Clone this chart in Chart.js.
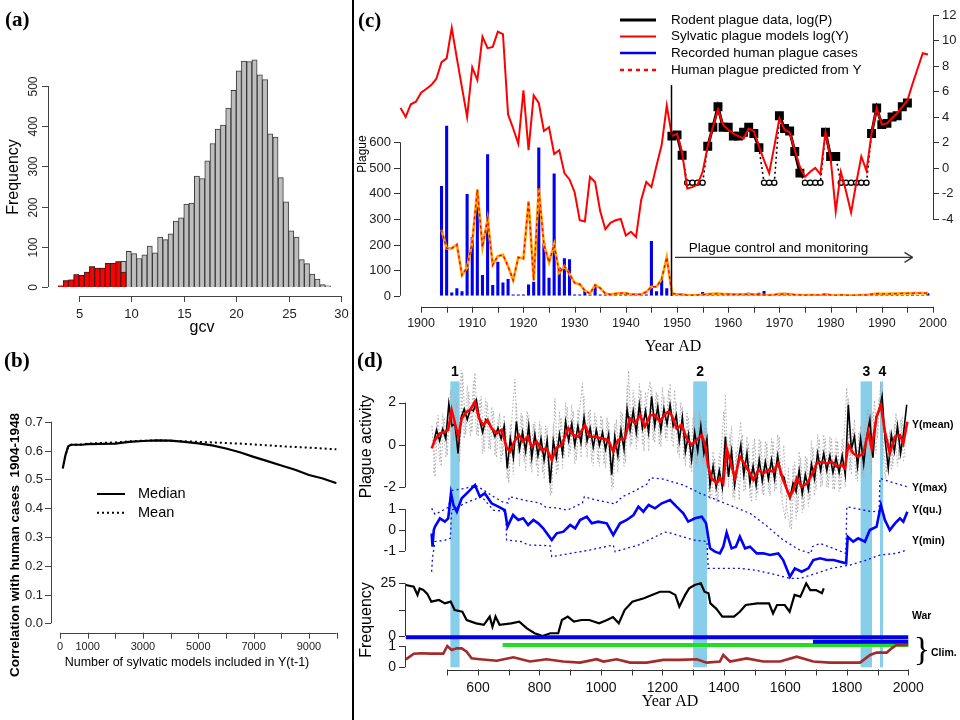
<!DOCTYPE html>
<html><head><meta charset="utf-8">
<script src="https://cdn.jsdelivr.net/npm/chart.js@4/dist/chart.umd.min.js"></script>
<style>
html,body{margin:0;padding:0;background:#fff;}
#wrap{position:relative;width:960px;height:720px;overflow:hidden;background:#fff;}
canvas{position:absolute;}
#divider{position:absolute;left:352px;top:0;width:2px;height:720px;background:#000;}
</style></head><body>
<div id="wrap">
<canvas id="ca" width="352" height="335" style="left:0;top:0"></canvas>
<canvas id="cb" width="352" height="385" style="left:0;top:335px"></canvas>
<canvas id="cc" width="606" height="360" style="left:354px;top:0"></canvas>
<canvas id="cd" width="606" height="380" style="left:354px;top:340px"></canvas>
<div id="divider"></div>
</div>
<script>
// ---------------- DATA ----------------
// (a) histogram of gcv
const gcvBins = [3.25,3.75,4.25,4.75,5.25,5.75,6.25,6.75,7.25,7.75,8.25,8.75,9.25,9.75,10.25,10.75,11.25,11.75,12.25,12.75,13.25,13.75,14.25,14.75,15.25,15.75,16.25,16.75,17.25,17.75,18.25,18.75,19.25,19.75,20.25,20.75,21.25,21.75,22.25,22.75,23.25,23.75,24.25,24.75,25.25,25.75,26.25,26.75,27.25,27.75,28.25,28.75];
const gcvAll = [3,16,18,31,29,37,51,47,47,59,59,63,64,89,83,71,80,102,85,124,118,132,164,172,206,209,276,270,314,357,393,403,445,489,538,562,561,565,528,516,381,373,272,212,140,124,68,58,32,20,6,3];
const gcvSelected = [3,16,18,31,29,37,51,47,47,59,59,63,37];

// (b) correlation vs number of models
const modelCounts = [100,200,300,400,600,800,1000,1500,2000,2500,3000,3500,4000,4500,5000,5500,6000,6500,7000,7500,8000,8500,9000,9500,10000];
const corrMedian = [0.538,0.585,0.615,0.62,0.62,0.62,0.622,0.623,0.624,0.63,0.633,0.635,0.634,0.63,0.625,0.618,0.607,0.594,0.578,0.563,0.548,0.533,0.515,0.503,0.486];
const corrMean   = [0.538,0.585,0.615,0.62,0.62,0.621,0.624,0.626,0.628,0.632,0.634,0.635,0.634,0.632,0.630,0.628,0.626,0.624,0.621,0.618,0.615,0.612,0.610,0.607,0.604];

// (c) 20th century
const yearsY = [1896,1897,1898,1899,1900,1901,1902,1903,1904,1905,1906,1907,1908,1909,1910,1911,1912,1913,1914,1915,1916,1917,1918,1919,1920,1921,1922,1923,1924,1925,1926,1927,1928,1929,1930,1931,1932,1933,1934,1935,1936,1937,1938,1939,1940,1941,1942,1943,1944,1945,1946,1947,1948,1949,1950,1951,1952,1953,1954,1955,1956,1957,1958,1959,1960,1961,1962,1963,1964,1965,1966,1967,1968,1969,1970,1971,1972,1973,1974,1975,1976,1977,1978,1979,1980,1981,1982,1983,1984,1985,1986,1987,1988,1989,1990,1991,1992,1993,1994,1995,1996,1997,1998,1999];
const sylvaticLogY = [4.7,4.0,5.0,5.2,5.9,6.2,6.5,7.0,8.3,8.6,11.0,8.6,6.3,4.0,7.9,6.9,10.3,9.4,9.5,10.7,10.5,4.2,3.1,1.9,6.1,1.4,5.7,5.1,2.9,3.2,1.1,1.4,-0.4,-0.9,-1.9,-4.1,-4.2,-0.7,-1.1,-3.4,-4.8,-4.3,-4.1,-4.0,-5.3,-5.0,-5.4,-2.5,-1.1,-1.5,0.2,1.8,4.9,2.5,2.7,1.2,-1.6,-1.5,-1.3,-0.3,1.7,3.2,4.6,3.4,3.0,2.7,2.5,2.3,3.1,2.9,1.7,0.6,-0.4,1.7,3.9,3.0,2.8,1.4,0.1,-0.7,-0.3,0.0,-0.5,2.8,0.8,-3.4,-0.3,-1.8,-3.5,-1.2,0.9,-0.2,2.7,4.7,3.4,3.5,3.9,4.3,4.8,5.3,6.6,7.8,9.0,8.9];
const caseYears = [1904,1905,1906,1907,1908,1909,1910,1911,1912,1913,1914,1915,1916,1917,1918,1919,1920,1921,1922,1923,1924,1925,1926,1927,1928,1929,1930,1931,1932,1933,1934,1935,1936,1937,1938,1939,1940,1941,1942,1943,1944,1945,1946,1947,1948,1949,1950,1951,1952,1953,1954,1955,1956,1957,1958,1959,1960,1961,1962,1963,1964,1965,1966,1967,1968,1969,1970,1971,1972,1973,1974,1975,1976,1977,1978,1979,1980,1981,1982,1983,1984,1985,1986,1987,1988,1989,1990,1991,1992,1993,1994,1995,1996,1997,1998,1999];
const humanCases = [429,665,13,29,17,398,230,348,81,553,42,133,52,65,5,5,5,44,55,580,205,70,478,110,146,143,5,5,20,5,38,5,5,5,8,5,10,5,5,5,5,214,17,64,29,5,3,3,3,3,3,14,5,3,9,3,5,3,5,3,12,3,12,18,5,3,5,12,3,5,3,5,3,5,3,3,5,3,3,5,3,3,5,3,3,3,8,3,3,5,3,3,5,3,3,10];
const humanPredicted = [258,185,185,200,80,110,210,415,190,300,120,155,160,115,60,150,145,370,60,420,200,130,200,90,115,85,50,45,20,8,42,30,8,5,8,10,10,5,5,5,15,35,35,65,150,10,5,5,2,2,3,4,6,7,8,6,6,5,5,5,6,5,4,3,2,4,7,6,6,4,3,2,3,3,2,6,3,1,3,2,1,2,3,3,6,8,7,7,8,8,9,9,10,10,10,10];
const rodentYears = [1949,1950,1951,1952,1953,1954,1955,1956,1957,1958,1959,1960,1961,1962,1963,1964,1965,1966,1967,1968,1969,1970,1971,1972,1973,1974,1975,1976,1977,1978,1979,1980,1981,1982,1983,1984,1985,1986,1987,1988,1989,1990,1991,1992,1993,1994,1995];
// null = no rodent plague recorded (P = 0), drawn as open circles on the zero line
const rodentLogP = [2.5,2.6,1.0,null,null,null,null,1.7,3.2,4.8,3.2,3.2,2.5,2.5,2.8,3.2,2.7,1.6,null,null,null,4.1,3.1,2.9,1.3,-0.4,null,null,null,null,2.8,0.9,0.9,null,null,null,null,null,null,2.7,4.7,3.4,3.5,4.0,4.1,4.8,5.1];
const rodentZeroLevel = -1.15;

// (d) 1500 years
const meanYears = [449,460,476,492,503,514,536,547,563,574,590,603,617,631,644,661,677,693,704,718,733,747,762,775,791,807,823,840,856,872,894,910,926,948,964,981,1002,1024,1040,1056,1078,1094,1111,1127,1143,1160,1176,1192,1208,1219,1230,1246,1263,1279,1295,1312,1328,1339,1349,1360,1377,1387,1398,1409,1420,1436,1452,1469,1485,1496,1512,1528,1545,1561,1577,1593,1606,1615,1626,1637,1653,1670,1686,1702,1718,1735,1751,1767,1783,1794,1805,1821,1837,1854,1870,1881,1897,1911,1924,1940,1957,1973,1984,1997];
const meanVals = [-0.16,0.24,0.55,0.63,0.71,1.65,0.39,1.26,1.57,1.65,2.04,1.26,0.94,1.18,0.79,0.55,0.71,-0.11,-0.31,0.16,0.47,0.16,0.39,-0.08,0.16,-0.24,-0.16,-0.71,-0.11,0.0,0.79,0.47,0.39,0.94,0.39,0.39,0.31,0.24,-0.31,0.24,0.31,1.26,1.02,1.41,0.87,1.4,1.41,1.1,1.45,1.57,1.41,0.79,0.94,0.31,0.0,0.24,0.47,0.0,-1.02,-1.57,-1.81,-1.57,-1.81,-0.16,-0.71,-1.57,-0.55,-0.94,-1.34,-1.65,-1.18,-1.34,-1.18,-1.26,-0.87,-1.65,-2.12,-2.44,-2.12,-1.57,-1.97,-1.81,-1.42,-0.87,-0.79,-0.87,-0.79,-1.02,-0.94,-1.1,0.0,-0.39,-0.55,-0.39,0.63,-0.16,1.34,1.89,0.63,-0.39,0.39,0.47,0.08,1.1];
const rawStartYear = 455, rawStepYears = 10;
const rawVals = [0.1,0.7,0.2,0.75,0.3,
 1.95,0.9,1.0,-0.4,1.3,1.7,1.2,1.7,1.6,2.1,
 1.2,0.6,1.2,1.0,0.8,0.4,0.8,0.3,0.9,-1.1,
 0.3,-0.6,1.1,-0.2,0.6,-0.3,0.9,-0.6,0.5,-0.5,
 0.3,-0.7,0.2,-1.8,0.2,-0.6,0.5,-0.4,1.1,0.2,
 1.0,0.0,0.9,0.1,1.3,0.2,0.8,-0.1,0.7,0.0,
 0.6,-0.2,0.5,-1.4,0.4,-0.5,0.7,-0.2,1.7,0.7,
 1.6,0.6,1.9,0.8,1.6,0.6,2.3,0.9,1.8,0.7,
 1.7,1.0,1.9,0.9,1.4,0.2,1.3,-0.3,0.5,-0.7,
 0.6,-0.3,0.9,-0.4,0.3,-1.9,-1.0,-2.0,-1.2,-2.0,
 0.4,-1.5,-0.3,-1.9,-0.9,0.0,-1.4,-0.4,-1.8,-1.0,
 -1.9,-0.7,-1.7,-0.8,-1.6,-0.7,-1.6,-0.5,-1.4,-1.5,
 -2.1,-2.5,-1.8,-2.2,-1.2,-2.3,-1.4,-2.1,-0.9,-1.6,
 -0.4,-1.2,-0.4,-1.2,-0.5,-1.3,-0.6,-1.3,-0.5,-1.4,
 1.9,-0.2,0.4,-1.0,0.3,-0.9,0.4,1.2,-0.6,1.3,
 1.6,2.3,0.2,-1.1,0.5,-0.3,0.9,-0.4,0.6,1.9];
const modelAStartYear = 450;
const modelAVals = [0.9,-1.5,1.4,-1.0,1.3,
 -0.5,2.6,0.2,2.0,-0.8,3.4,0.5,2.5,0.6,3.4,
 0.4,2.3,-0.3,2.0,-0.2,1.6,-0.6,1.5,-0.5,0.9,
 -1.8,1.2,3.1,-0.4,1.5,-0.8,1.6,-1.0,1.0,-1.0,
 1.1,-1.3,0.9,-1.6,-2.3,2.2,-1.2,1.3,-0.6,1.8,
 -0.4,1.6,-0.7,1.6,2.9,-0.1,1.6,-0.8,1.5,-0.8,
 1.4,-0.9,1.3,-1.3,-2.0,1.2,-0.8,1.5,-0.8,3.5,
 0.0,2.2,0.2,2.6,-0.3,2.2,3.0,0.2,2.5,0.0,
 2.7,0.3,2.6,0.2,2.6,-0.4,2.0,-0.7,1.5,-1.1,
 1.3,-0.9,1.6,-0.8,1.1,-2.2,-2.5,-0.6,-2.7,-0.5,
 1.6,-1.4,0.5,-2.5,-0.3,-2.6,0.5,-2.1,0.1,-2.7,
 0.3,-2.3,0.2,-2.4,0.1,-2.4,0.2,-2.1,0.4,-2.7,
 -3.5,-1.1,-4.0,-0.8,-3.2,-0.6,-3.0,-0.6,-2.6,-0.1,
 -2.1,0.3,-1.9,0.3,-2.0,0.3,-2.1,0.2,-2.1,0.1,
 2.7,-1.2,0.8,-1.6,0.6,-1.5,1.0,1.7,-1.3,2.1,
 0.3,2.9,-0.3,-1.3,0.7,-1.0,1.5,-0.7,1.3,-0.6];
const modelBStartYear = 455;
const modelBVals = [-1.3,1.1,-0.8,1.5,-0.6,
 1.8,-0.2,2.4,-0.9,3.7,0.3,2.8,0.4,3.0,0.5,
 2.1,-0.4,2.2,-0.2,1.8,-0.5,1.2,-0.8,1.4,-1.6,
 1.0,-1.4,2.0,-1.0,1.4,-1.2,1.4,-1.3,1.1,-1.5,
 0.9,-1.6,0.8,-2.4,1.0,-1.4,1.6,-1.1,2.0,-0.6,
 1.9,-0.9,1.7,-0.6,2.3,-0.6,1.7,-1.0,1.3,-1.0,
 1.2,-1.1,1.1,-2.1,1.0,-1.3,1.6,-1.0,2.8,-0.1,
 2.6,-0.2,2.9,0.0,2.5,-0.3,2.7,0.1,2.4,-0.1,
 2.3,0.2,2.9,-0.1,2.0,-0.6,1.8,-1.0,1.3,-1.3,
 1.5,-1.1,1.4,-1.0,0.8,-2.6,-0.3,-2.7,-0.4,-2.6,
 2.4,-2.0,0.9,-2.6,-0.1,1.1,-2.2,0.4,-2.5,0.0,
 -2.6,0.3,-2.3,0.2,-2.2,0.3,-2.2,0.5,-2.3,0.0,
 -3.0,-3.9,-1.0,-3.5,-0.3,-3.2,-0.5,-2.9,0.2,-2.4,
 0.5,-2.0,0.5,-2.0,0.4,-2.1,0.3,-2.2,0.3,-2.0,
 2.2,-1.4,1.2,-1.7,0.9,-1.6,1.2,-0.9,1.6,-0.4,
 2.2,0.1,-1.6,0.3,-1.2,1.0,-1.0,1.2,-0.8];
const quYears = [449,452,456,460,476,492,503,512,520,531,547,569,590,606,622,644,666,687,696,714,731,747,763,780,796,812,840,856,878,900,916,932,954,970,991,1019,1040,1062,1084,1106,1122,1138,1155,1176,1198,1225,1246,1268,1284,1306,1328,1342,1355,1371,1387,1398,1409,1425,1439,1452,1469,1485,1507,1528,1550,1577,1593,1615,1631,1653,1675,1691,1713,1735,1757,1778,1798,1803,1821,1837,1859,1875,1897,1911,1924,1940,1957,1973,1984,1997];
const quVals = [-0.16,-0.8,0.0,0.16,0.56,0.4,0.56,1.76,1.2,0.88,1.52,1.84,2.16,1.6,1.76,1.28,1.12,0.96,0.16,0.72,0.48,0.56,0.24,0.48,0.32,0.08,-0.48,-0.16,-0.08,0.24,0.08,0.48,0.64,0.32,0.4,0.32,-0.24,0.32,0.48,0.72,1.12,0.88,1.2,1.04,1.28,1.44,1.12,0.8,0.4,0.56,0.64,0.32,-0.88,-1.04,-1.12,-0.8,-0.13,-0.88,-0.8,-0.32,-0.88,-0.8,-1.12,-1.12,-1.2,-1.12,-1.44,-2.24,-1.84,-2.0,-1.84,-1.44,-1.36,-1.44,-1.44,-1.52,-1.6,-0.32,-0.56,-0.4,-0.56,0.0,0.16,1.2,0.48,0.0,0.32,0.56,0.4,0.88];
const maxYears = [449,460,480,505,512,560,590,620,650,680,698,702,760,800,820,860,890,940,946,980,1030,1045,1070,1100,1150,1160,1200,1268,1323,1377,1431,1485,1539,1593,1647,1683,1688,1713,1750,1797,1800,1854,1880,1905,1908,1940,1995];
const maxVals = [1.04,0.75,0.9,1.1,1.9,2.0,2.15,1.9,1.6,1.35,1.3,1.6,1.4,1.3,1.1,1.05,0.95,1.3,1.6,1.45,1.3,1.25,1.6,1.8,2.2,2.5,2.45,2.16,1.76,1.44,1.12,0.8,0.2,-0.48,-0.96,-1.12,-0.8,-0.64,-0.85,-1.12,1.12,0.96,0.88,0.9,2.48,2.32,2.08];
const minYears = [449,452,460,490,510,514,560,612,650,690,693,742,763,834,840,964,1040,1046,1122,1208,1230,1301,1345,1349,1450,1500,1550,1615,1650,1700,1750,1810,1865,1908,1962,1995];
const minVals = [-2.0,-1.3,-0.55,-0.5,-0.4,0.95,1.3,1.6,0.95,0.9,-0.48,-0.56,-0.72,-0.75,-1.28,-0.96,-0.72,-1.04,-0.72,-0.1,-0.16,-0.48,-0.55,-1.84,-1.84,-1.92,-2.08,-2.32,-2.32,-2.08,-1.84,-1.68,-1.44,-1.2,-1.12,-0.96];
const warYears = [365,391,403,410,422,435,448,473,492,511,524,549,563,594,619,638,647,657,670,708,734,759,784,810,835,861,873,892,912,937,962,994,1020,1039,1058,1077,1102,1140,1166,1192,1223,1242,1255,1274,1287,1305,1325,1337,1350,1356,1375,1395,1433,1452,1471,1509,1547,1560,1573,1598,1614,1630,1649,1668,1681,1700,1719,1725];
const warVals = [24.2,23.4,19.5,22.5,21.8,20,16.3,17.1,15.5,16.3,12.3,11.5,7.6,6.0,5.3,9.2,4.4,9.2,5.3,6.0,6.8,3.6,1.3,0,1.3,1.3,7.6,9.2,6.8,7.6,7.6,6.0,7.6,9.0,6.0,12.3,16.3,17.9,19.5,21.0,21.0,19.5,13.9,19.5,22.6,24.2,25,21,20.3,15.5,13,9.2,9.2,11.5,14.7,15.5,15.5,10.7,14.7,14.7,11.5,19.5,18.7,25,21.8,21.8,20.3,22.6];
const climYears = [365,391,416,444,487,500,514,531,547,563,579,606,661,715,769,823,877,932,986,1008,1051,1095,1149,1203,1257,1312,1344,1387,1398,1420,1474,1528,1583,1637,1691,1745,1800,1843,1876,1897,1930,1946,1962,2000];
const climVals = [0.37,0.64,0.66,0.64,0.64,1.0,0.81,0.89,0.89,0.73,0.42,0.38,0.31,0.47,0.27,0.38,0.27,0.22,0.38,0.27,0.38,0.22,0.22,0.35,0.35,0.38,0.22,0.27,0.58,0.27,0.42,0.27,0.27,0.5,0.27,0.22,0.22,0.22,0.58,0.69,0.69,0.89,1.05,1.05];
const recordStart = [365,1690,680];
const recordEnd = [2000,2000,2000];
const recordLevel = [1.41,1.2,1.05];
const pandemicStart = [510,1300,1845,1908];
const pandemicEnd = [540,1345,1882,1918];
const pandemicLabels = ['1','2','3','4'];

// ---------------- HELPERS ----------------
const SANS = '"Liberation Sans", Arial, Helvetica, sans-serif';
const SERIF = '"Liberation Serif", "Times New Roman", serif';
function xy(xs, ys){ return xs.map((x,i)=>({x:x, y:ys[i]})); }
function regular(start, step, vals){ return vals.map((v,i)=>({x:start+i*step, y:v})); }
function seg(ctx,x1,y1,x2,y2,color,w,dash){ctx.save();ctx.beginPath();ctx.strokeStyle=color||'#000';ctx.lineWidth=w||1;ctx.setLineDash(dash||[]);ctx.moveTo(x1,y1);ctx.lineTo(x2,y2);ctx.stroke();ctx.restore();}
function txt(ctx,s,x,y,o){o=o||{};ctx.save();ctx.translate(x,y);if(o.rot)ctx.rotate(o.rot);if(o.sx)ctx.scale(o.sx,1);ctx.font=o.font||('12px '+SANS);ctx.fillStyle=o.color||'#000';ctx.textAlign=o.align||'center';ctx.textBaseline=o.base||'middle';ctx.fillText(s,0,0);ctx.restore();}
const cr = v => Math.round(v)+0.5;
const base = {responsive:false, animation:false, events:[], devicePixelRatio:1,
  plugins:{legend:{display:false}, tooltip:{enabled:false}},
  elements:{point:{radius:0}, line:{tension:0}}};
Chart.defaults.font.family = SANS;

// ---------------- (a) ----------------
new Chart(document.getElementById('ca'), {
  type:'bar',
  data:{datasets:[
    {data:xy(gcvBins.slice(0,gcvSelected.length), gcvSelected), backgroundColor:'#FF0000', borderColor:'#3a2020', borderWidth:1, order:1},
    {data:xy(gcvBins, gcvAll), backgroundColor:'#BEBEBE', borderColor:'#3a3a3a', borderWidth:1, order:2}
  ]},
  options:Object.assign({}, base, {
    layout:{padding:{left:58, right:11, top:45.8, bottom:48}},
    datasets:{bar:{barPercentage:1, categoryPercentage:1, grouped:false}},
    scales:{x:{type:'linear', min:3, max:30, offset:false, display:false, ticks:{stepSize:5}},
            y:{min:0, max:600, display:false}}
  }),
  plugins:[{id:'axA', afterDraw(chart){
    const ctx=chart.ctx, x=chart.scales.x, y=chart.scales.y, col='#444';
    const ax=48;
    seg(ctx,cr(ax),y.getPixelForValue(0),cr(ax),y.getPixelForValue(500),col,1);
    [0,100,200,300,400,500].forEach(v=>{const py=cr(y.getPixelForValue(v)); seg(ctx,ax-6,py,ax,py,col,1); txt(ctx,String(v),ax-14,py,{font:'12px '+SANS,rot:-Math.PI/2,color:'#222'});});
    const ay=296;
    seg(ctx,x.getPixelForValue(5),cr(ay),x.getPixelForValue(30),cr(ay),col,1);
    [5,10,15,20,25,30].forEach(v=>{const px=cr(x.getPixelForValue(v)); seg(ctx,px,ay,px,ay+6,col,1); txt(ctx,String(v),px,ay+18,{font:'13px '+SANS,color:'#222'});});
    txt(ctx,'Frequency',14,177,{font:'16px '+SANS,rot:-Math.PI/2});
    txt(ctx,'gcv',202,328,{font:'16px '+SANS});
    txt(ctx,'(a)',5,21,{font:'bold 21px '+SERIF,align:'left'});
  }}]
});

// ---------------- (b) ----------------
new Chart(document.getElementById('cb'), {
  type:'line',
  data:{datasets:[
    {data:xy(modelCounts, corrMedian), borderColor:'#000', borderWidth:2.2, fill:false},
    {data:xy(modelCounts, corrMean), borderColor:'#000', borderWidth:2, borderDash:[2,3], fill:false}
  ]},
  options:Object.assign({}, base, {
    layout:{padding:{left:60, right:15.4, top:86.7, bottom:96.7}},
    scales:{x:{type:'linear', min:0, max:10000, display:false},
            y:{min:0, max:0.7, display:false}}
  }),
  plugins:[{id:'axB', afterDraw(chart){
    const ctx=chart.ctx, x=chart.scales.x, y=chart.scales.y, col='#444';
    const ax=51;
    seg(ctx,cr(ax),y.getPixelForValue(0),cr(ax),y.getPixelForValue(0.7),col,1);
    [0,0.1,0.2,0.3,0.4,0.5,0.6,0.7].forEach(v=>{const py=cr(y.getPixelForValue(v)); seg(ctx,ax-6,py,ax,py,col,1); txt(ctx,v.toFixed(1),ax-8,py,{font:'13px '+SANS,align:'right',color:'#222'});});
    const ay=297.7;
    seg(ctx,x.getPixelForValue(0),cr(ay),x.getPixelForValue(10000),cr(ay),col,1);
    for(let v=0;v<=10000;v+=1000){const px=cr(x.getPixelForValue(v)); seg(ctx,px,ay,px,ay+6,col,1);}
    [0,1000,3000,5000,7000,9000].forEach(v=>{txt(ctx,String(v),x.getPixelForValue(v),ay+14,{font:'11px '+SANS,color:'#222'});});
    txt(ctx,'Correlation with human cases  1904-1948',15,210,{font:'bold 13.5px '+SANS,rot:-Math.PI/2});
    txt(ctx,'Number of sylvatic models included in Y(t-1)',187,328,{font:'12.5px '+SANS});
    seg(ctx,97,159,125,159,'#000',2);
    seg(ctx,97,177.7,125,177.7,'#000',2,[2,3]);
    txt(ctx,'Median',138,159,{font:'14.5px '+SANS,align:'left'});
    txt(ctx,'Mean',138,177.7,{font:'14.5px '+SANS,align:'left'});
    txt(ctx,'(b)',4,27,{font:'bold 21px '+SERIF,align:'left'});
  }}]
});

// ---------------- (c) ----------------
const controlStartYear = 1948.8;
new Chart(document.getElementById('cc'), {
  type:'bar',
  data:{datasets:[
    {type:'line', data:xy(yearsY, sylvaticLogY), yAxisID:'y2', borderColor:'#FF0000', borderWidth:2, fill:false, order:1},
    {type:'line', data:xy(rodentYears, rodentLogP), yAxisID:'y2', borderColor:'#000', borderWidth:3, fill:false, spanGaps:false,
      pointStyle:'rect', pointRadius:4.2, pointBackgroundColor:'#000', pointBorderColor:'#000', order:2},
    {type:'line', data:xy(rodentYears, rodentLogP.map(v=>v===null?rodentZeroLevel:v)), yAxisID:'y2', borderColor:'#000', borderWidth:1.6, borderDash:[2,3], fill:false,
      pointRadius:rodentLogP.map(v=>v===null?2.6:0), pointBackgroundColor:'#fff', pointBorderColor:'#000', pointBorderWidth:1.3, order:3},
    {type:'line', data:xy(caseYears, humanPredicted), yAxisID:'y', borderColor:'#FF0000', borderWidth:1.4, borderDash:[3,3], fill:false, order:4},
    {type:'line', data:xy(caseYears, humanPredicted), yAxisID:'y', borderColor:'#FFA500', borderWidth:2.6, fill:false, order:5},
    {type:'bar', data:xy(caseYears, humanCases), yAxisID:'y', backgroundColor:'#0000EE', borderWidth:0, barPercentage:0.6, categoryPercentage:1, grouped:false, order:6}
  ]},
  options:Object.assign({}, base, {
    layout:{padding:{left:44, right:27, top:10, bottom:64.3}},
    scales:{x:{type:'linear', min:1895.5, max:2000, offset:false, display:false, ticks:{stepSize:10}},
            y:{position:'left', min:0, max:1117.3, display:false},
            y2:{position:'right', min:-10.016, max:12.392, display:false}}
  }),
  plugins:[{id:'axC', afterDraw(chart){
    const ctx=chart.ctx, x=chart.scales.x, y=chart.scales.y, y2=chart.scales.y2, col='#333';
    const lx=46;
    seg(ctx,cr(lx),y.getPixelForValue(0),cr(lx),y.getPixelForValue(600),col,1);
    [0,100,200,300,400,500,600].forEach(v=>{const py=cr(y.getPixelForValue(v)); seg(ctx,lx-6,py,lx,py,col,1); txt(ctx,String(v),lx-9,py,{font:'13px '+SANS,align:'right',color:'#222'});});
    txt(ctx,'Plague',9,154,{font:'12px '+SANS,rot:-Math.PI/2});
    const by=306.7;
    seg(ctx,x.getPixelForValue(1900),cr(by),x.getPixelForValue(2000),cr(by),col,1);
    for(let v=1900;v<=2000;v+=5){const px=cr(x.getPixelForValue(v)); seg(ctx,px,by,px,by+6,col,1);}
    for(let v=1900;v<=2000;v+=10){txt(ctx,String(v),x.getPixelForValue(v),by+17,{font:'12.5px '+SANS,color:'#222'});}
    const rx=579;
    seg(ctx,cr(rx),y2.getPixelForValue(-4),cr(rx),y2.getPixelForValue(12),col,1);
    for(let v=-4;v<=12;v+=2){const py=cr(y2.getPixelForValue(v)); seg(ctx,rx,py,rx+6,py,col,1); txt(ctx,String(v),rx+9,py,{font:'13px '+SANS,align:'left',color:'#222'});}
    // plague control line + arrow
    const cx=cr(x.getPixelForValue(controlStartYear));
    seg(ctx,cx,y2.getPixelForValue(6.5),cx,y.getPixelForValue(0),'#000',1.5);
    const ay=y.getPixelForValue(150), a1=x.getPixelForValue(1949.6), a2=x.getPixelForValue(1996);
    seg(ctx,a1,ay,a2,ay,'#333',1.3);
    seg(ctx,a2-8,ay-5,a2,ay,'#333',1.3); seg(ctx,a2-8,ay+5,a2,ay,'#333',1.3);
    txt(ctx,'Plague control and monitoring',x.getPixelForValue(1952.3),y.getPixelForValue(186),{font:'13.5px '+SANS,align:'left'});
    // legend
    const lg=[['Rodent plague data, log(P)','#000',3,[]],['Sylvatic plague models log(Y)','#FF0000',2,[]],['Recorded human plague cases','#0000EE',2.5,[]],['Human plague predicted from Y','#FF0000',2.5,[4,4]]];
    const rows=[20,36.5,53,70];
    lg.forEach((e,i)=>{seg(ctx,266,rows[i],302,rows[i],e[1],e[2],e[3]); txt(ctx,e[0],317,rows[i],{font:'13.5px '+SANS,align:'left'});});
    txt(ctx,'(c)',4,22,{font:'bold 21px '+SERIF,align:'left'});
    txt(ctx,'Year AD',319,347,{font:'16px '+SERIF});
  }}]
});

// ---------------- (d) ----------------
const lineD = (data, yid, color, w, dash, order) => ({type:'line', data:data, yAxisID:yid, borderColor:color, borderWidth:w, borderDash:dash||[], fill:false, order:order, pointRadius:0});
new Chart(document.getElementById('cd'), {
  type:'line',
  data:{datasets:[
    lineD(regular(modelAStartYear, rawStepYears, modelAVals),'yA','#A8A8A8',1,[1.5,2],12),
    lineD(regular(modelBStartYear, rawStepYears, modelBVals),'yA','#B4B4B4',1,[1.5,2],11),
    lineD(regular(rawStartYear, rawStepYears, rawVals),'yA','#000',1.6,[],10),
    lineD(xy(meanYears, meanVals),'yA','#FF0000',2.6,[],9),
    lineD(xy(maxYears, maxVals),'yB','#1010E0',1.3,[2,3],8),
    lineD(xy(minYears, minVals),'yB','#1010E0',1.3,[2,3],7),
    lineD(xy(quYears, quVals),'yB','#0000FF',2.6,[],6),
    lineD(xy(warYears, warVals),'yW','#000',2.2,[],5),
    lineD([{x:recordStart[2],y:recordLevel[2]},{x:recordEnd[2],y:recordLevel[2]}],'yC','#22DD22',4,[],4),
    lineD([{x:recordStart[0],y:recordLevel[0]},{x:recordEnd[0],y:recordLevel[0]}],'yC','#0000EE',4,[],3),
    lineD([{x:recordStart[1],y:recordLevel[1]},{x:recordEnd[1],y:recordLevel[1]}],'yC','#0000EE',4,[],2),
    lineD(xy(climYears, climVals),'yC','#A52A2A',2.6,[],1)
  ]},
  options:Object.assign({}, base, {
    layout:{padding:{left:51, right:2, top:30, bottom:45}},
    scales:{x:{type:'linear', min:362.35, max:2161.9, display:false},
            yA:{position:'left', min:-10.849, max:3.5377, display:false},
            yB:{position:'left', min:-6.954, max:7.674, display:false},
            yW:{position:'left', min:-18.5, max:126.19, display:false},
            yC:{position:'left', min:-0.3615, max:13.958, display:false}}
  }),
  plugins:[{id:'axD',
    beforeDatasetsDraw(chart){
      const ctx=chart.ctx, x=chart.scales.x, yA=chart.scales.yA, yC=chart.scales.yC;
      ctx.save(); ctx.fillStyle='#87CEEB';
      const top=yA.getPixelForValue(3.0), bot=yC.getPixelForValue(0);
      pandemicStart.forEach((s,i)=>{const x1=x.getPixelForValue(s), x2=x.getPixelForValue(pandemicEnd[i]); ctx.fillRect(x1,top,x2-x1,bot-top);});
      ctx.restore();
    },
    afterDraw(chart){
      const ctx=chart.ctx, x=chart.scales.x, s=chart.scales, col='#333';
      const ax=51;
      const vax=(sc,from,to,ticks,labels)=>{
        seg(ctx,cr(ax),sc.getPixelForValue(from),cr(ax),sc.getPixelForValue(to),col,1);
        ticks.forEach(v=>{const py=cr(sc.getPixelForValue(v)); seg(ctx,ax-6,py,ax,py,col,1);});
        labels.forEach(v=>{txt(ctx,String(v),ax-9,sc.getPixelForValue(v),{font:'14px '+SANS,align:'right',color:'#111'});});
      };
      vax(s.yA,-2,2,[-2,0,2],[-2,0,2]);
      vax(s.yB,-1,1,[-1,0,1],[-1,0,1]);
      vax(s.yW,0,25,[0,12.5,25],[0,25]);
      vax(s.yC,0,1,[0,1],[0,1]);
      const by=329.5;
      seg(ctx,x.getPixelForValue(500),cr(by),x.getPixelForValue(2000),cr(by),col,1);
      for(let v=500;v<=2000;v+=100){const px=cr(x.getPixelForValue(v)); seg(ctx,px,by,px,by+6,col,1);}
      for(let v=600;v<=2000;v+=200){txt(ctx,String(v),x.getPixelForValue(v),by+18.5,{font:'14px '+SANS,color:'#111'});}
      txt(ctx,'Year AD',316,362,{font:'16px '+SERIF});
      txt(ctx,'Plague activity',12.7,106.7,{font:'16px '+SANS,rot:-Math.PI/2});
      txt(ctx,'Frequency',12.7,280,{font:'16px '+SANS,rot:-Math.PI/2});
      txt(ctx,'(d)',3,22,{font:'bold 21px '+SERIF,align:'left'});
      const top=s.yA.getPixelForValue(3.0);
      pandemicLabels.forEach((l,i)=>{txt(ctx,l,x.getPixelForValue((pandemicStart[i]+pandemicEnd[i])/2)+(i===3?1:0),top-9,{font:'bold 14px '+SANS});});
      const f='bold 10.5px '+SANS;
      txt(ctx,'Y(mean)',558,85,{font:f,align:'left'});
      txt(ctx,'Y(max)',558,148.3,{font:f,align:'left'});
      txt(ctx,'Y(qu.)',558,170,{font:f,align:'left'});
      txt(ctx,'Y(min)',558,201,{font:f,align:'left'});
      txt(ctx,'War',558,276,{font:f,align:'left'});
      txt(ctx,'}',568,311,{font:'34px '+SERIF});
      txt(ctx,'Clim.',577,313,{font:f,align:'left'});
    }}]
});
</script>
</body></html>
